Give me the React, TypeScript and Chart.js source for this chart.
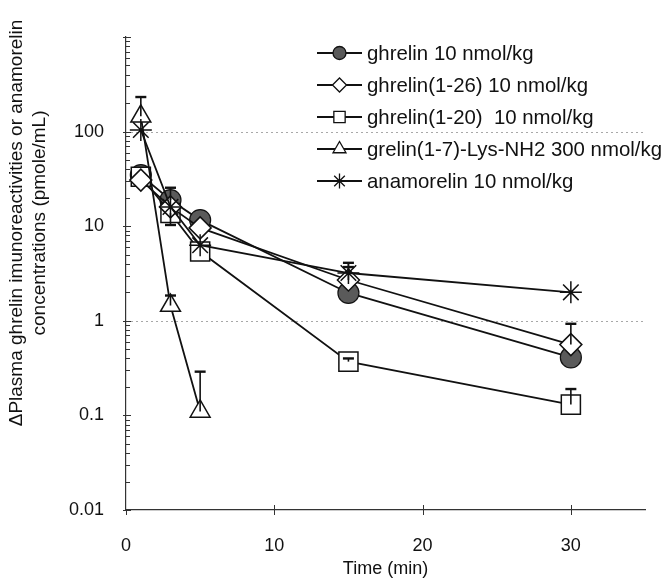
import React, { useEffect, useRef } from 'react';
import { Chart, registerables } from 'chart.js';
import { drawPoint } from 'chart.js/helpers';

Chart.register(...registerables);

// ---- data ----
const times = [1, 3, 5, 15, 30];
const timesShort = [1, 3, 5];

const seriesNames = [
  'ghrelin 10 nmol/kg',
  'ghrelin(1-26) 10 nmol/kg',
  'ghrelin(1-20)  10 nmol/kg',
  'grelin(1-7)-Lys-NH2 300 nmol/kg',
  'anamorelin 10 nmol/kg',
];

const ghrelin = [34.7, 18.9, 11.6, 1.97, 0.41];
const ghrelin126 = [30.7, 16, 9.6, 2.7, 0.56];
const ghrelin120 = [33.3, 13.8, 5.4, 0.37, 0.13];
const grelin17 = [145, 1.45, 0.11];
const anamorelin = [104, 16, 6.3, 3.2, 2.0];

const ghrelinErrUp = [null, 25.5, null, null, null];
const ghrelin126ErrUp = [null, null, null, 3.7, 0.93];
const ghrelin120ErrUp = [null, null, null, 0.4, 0.19];
const ghrelin120ErrLow = [null, 10.3, null, null, null];
const grelin17ErrUp = [232, 1.85, 0.29];
const anamorelinErrUp = [null, null, null, 4.1, null];

const yTickValues = [0.01, 0.1, 1, 10, 100, 1000];
const yTickLabels = ['0.01', '0.1', '1', '10', '100', ''];
const xTickValues = [0, 10, 20, 30];
const gridValues = [1, 100];

const yTitleLines = [
  '\u0394Plasma ghrelin imunoreactivities or anamorelin',
  'concentrations (pmole/mL)',
];
const xTitle = 'Time (min)';

const FONT = "'Liberation Sans', Arial, sans-serif";

type Series = {
  name: string;
  x: number[];
  y: number[];
  up: (number | null)[];
  low: (number | null)[];
  style: string;
  radius: number;
  legendRadius: number;
  fill: string;
  order: number;
};

const series: Series[] = [
  { name: seriesNames[0], x: times, y: ghrelin, up: ghrelinErrUp, low: [], style: 'circle', radius: 10.5, legendRadius: 6.5, fill: '#5a5a5a', order: 5 },
  { name: seriesNames[1], x: times, y: ghrelin126, up: ghrelin126ErrUp, low: [], style: 'rectRot', radius: 11, legendRadius: 7, fill: '#ffffff', order: 3 },
  { name: seriesNames[2], x: times, y: ghrelin120, up: ghrelin120ErrUp, low: ghrelin120ErrLow, style: 'rect', radius: 13.5, legendRadius: 8, fill: '#ffffff', order: 4 },
  { name: seriesNames[3], x: timesShort, y: grelin17, up: grelin17ErrUp, low: [], style: 'triangle', radius: 11.5, legendRadius: 7.5, fill: '#ffffff', order: 2 },
  { name: seriesNames[4], x: times, y: anamorelin, up: anamorelinErrUp, low: [], style: 'star', radius: 11, legendRadius: 7.5, fill: 'rgba(0,0,0,0)', order: 1 },
];

const decorPlugin = {
  id: 'decor',
  beforeDatasetsDraw(chart: any) {
    const { ctx, chartArea } = chart;
    const x = chart.scales.x;
    const y = chart.scales.y;
    ctx.save();
    // dotted grid lines
    ctx.strokeStyle = '#a8a8a8';
    ctx.lineWidth = 1;
    ctx.setLineDash([2, 3]);
    for (const v of gridValues) {
      const py = Math.round(y.getPixelForValue(v)) + 0.5;
      ctx.beginPath();
      ctx.moveTo(chartArea.left, py);
      ctx.lineTo(chartArea.right, py);
      ctx.stroke();
    }
    ctx.setLineDash([]);
    // y tick marks (major + minor)
    ctx.strokeStyle = '#333';
    ctx.lineWidth = 1;
    const left = chartArea.left;
    for (let k = -2; k <= 2; k++) {
      for (let m = 1; m <= 9; m++) {
        const v = Number((m * Math.pow(10, k)).toPrecision(3));
        const py = Math.round(y.getPixelForValue(v)) + 0.5;
        ctx.beginPath();
        if (m === 1) {
          ctx.moveTo(left - 3, py);
          ctx.lineTo(left + 5, py);
        } else {
          ctx.moveTo(left, py);
          ctx.lineTo(left + 4, py);
        }
        ctx.stroke();
      }
    }
    const pTop = Math.round(y.getPixelForValue(1000)) + 0.5;
    ctx.beginPath();
    ctx.moveTo(left - 3, pTop);
    ctx.lineTo(left + 5, pTop);
    ctx.stroke();
    // x tick marks
    for (const v of xTickValues) {
      const px = Math.round(x.getPixelForValue(v)) + 0.5;
      ctx.beginPath();
      ctx.moveTo(px, chartArea.bottom - (v === 0 ? 0 : 5));
      ctx.lineTo(px, chartArea.bottom + 5);
      ctx.stroke();
    }
    ctx.restore();
  },
  afterDatasetsDraw(chart: any) {
    const { ctx } = chart;
    const x = chart.scales.x;
    const y = chart.scales.y;
    ctx.save();
    ctx.strokeStyle = '#111';
    const bar = (px: number, py: number, pe: number) => {
      ctx.lineWidth = 1.6;
      ctx.beginPath();
      ctx.moveTo(px, py);
      ctx.lineTo(px, pe);
      ctx.stroke();
      ctx.lineWidth = 2.4;
      ctx.beginPath();
      ctx.moveTo(px - 5.5, pe);
      ctx.lineTo(px + 5.5, pe);
      ctx.stroke();
    };
    series.forEach((s) => {
      s.x.forEach((t, j) => {
        const px = x.getPixelForValue(t);
        const py = y.getPixelForValue(s.y[j]);
        const u = s.up[j];
        if (u != null) bar(px, py, y.getPixelForValue(u));
        const l = s.low[j];
        if (l != null) bar(px, py, y.getPixelForValue(l));
      });
    });
    ctx.restore();
  },
  afterDraw(chart: any) {
    const { ctx } = chart;
    ctx.save();
    // legend
    series.forEach((s, i) => {
      const ly = 53 + 32 * i;
      ctx.strokeStyle = '#111';
      ctx.lineWidth = 1.8;
      ctx.beginPath();
      ctx.moveTo(317, ly);
      ctx.lineTo(362, ly);
      ctx.stroke();
      ctx.fillStyle = s.fill;
      ctx.strokeStyle = '#111';
      ctx.lineWidth = 1.3;
      drawPoint(ctx, { pointStyle: s.style as any, rotation: 0, radius: s.legendRadius, borderWidth: 1.3 }, 339.5, ly);
      ctx.fillStyle = '#111';
      ctx.font = `20.4px ${FONT}`;
      ctx.textAlign = 'left';
      ctx.textBaseline = 'middle';
      ctx.fillText(s.name, 367, ly + 1);
    });
    // y title
    ctx.fillStyle = '#111';
    ctx.font = `19px ${FONT}`;
    ctx.textAlign = 'center';
    ctx.textBaseline = 'middle';
    const xs = [17, 40];
    yTitleLines.forEach((line, i) => {
      ctx.save();
      ctx.translate(xs[i], 223);
      ctx.rotate(-Math.PI / 2);
      ctx.fillText(line, 0, 0);
      ctx.restore();
    });
    ctx.restore();
  },
};

export default function App() {
  const ref = useRef<HTMLCanvasElement>(null);
  useEffect(() => {
    if (!ref.current) return;
    const chart = new Chart(ref.current, {
      type: 'line',
      data: {
        datasets: series.map((s) => ({
          label: s.name,
          data: s.x.map((t, j) => ({ x: t, y: s.y[j] })),
          borderColor: '#111',
          borderWidth: 1.8,
          backgroundColor: s.fill,
          pointStyle: s.style as any,
          pointRadius: s.radius,
          pointHoverRadius: s.radius,
          pointBackgroundColor: s.fill,
          pointBorderColor: '#111',
          pointBorderWidth: s.style === 'circle' ? 1.2 : 1.5,
          tension: 0,
          fill: false,
          order: s.order,
        })),
      },
      options: {
        responsive: false,
        animation: false,
        events: [],
        layout: { padding: { top: 37, right: 20, left: 0, bottom: 0 } },
        plugins: {
          legend: { display: false },
          tooltip: { enabled: false },
        },
        scales: {
          x: {
            type: 'linear',
            min: 0,
            max: 35,
            grid: { display: false, drawTicks: false },
            border: { display: true, color: '#333', width: 1.2 },
            afterBuildTicks: (scale: any) => {
              scale.ticks = xTickValues.map((v) => ({ value: v }));
            },
            afterFit: (scale: any) => {
              scale.height = 70;
            },
            ticks: {
              padding: 25,
              color: '#111',
              font: { family: FONT, size: 18 },
              maxRotation: 0,
              autoSkip: false,
              callback: (v: any) => String(v),
            },
            title: {
              display: true,
              text: xTitle,
              color: '#111',
              font: { family: FONT, size: 18 },
              padding: { top: 0, bottom: 0 },
            },
          },
          y: {
            type: 'logarithmic',
            min: 0.01,
            max: 1000,
            grid: { display: false, drawTicks: false },
            border: { display: true, color: '#333', width: 1.2 },
            afterBuildTicks: (scale: any) => {
              scale.ticks = yTickValues.map((v) => ({ value: v }));
            },
            afterFit: (scale: any) => {
              scale.width = 126;
            },
            ticks: {
              padding: 22,
              color: '#111',
              font: { family: FONT, size: 18 },
              autoSkip: false,
              callback: (v: any) => {
                const i = yTickValues.findIndex((t) => Math.abs(t - v) / t < 1e-6);
                return i >= 0 ? yTickLabels[i] : '';
              },
            },
          },
        },
      },
      plugins: [decorPlugin],
    });
    return () => chart.destroy();
  }, []);
  return (
    <div style={{ position: 'absolute', left: 0, top: 0, width: 665, height: 580, background: '#fff' }}>
      <canvas ref={ref} width={665} height={580} />
    </div>
  );
}
